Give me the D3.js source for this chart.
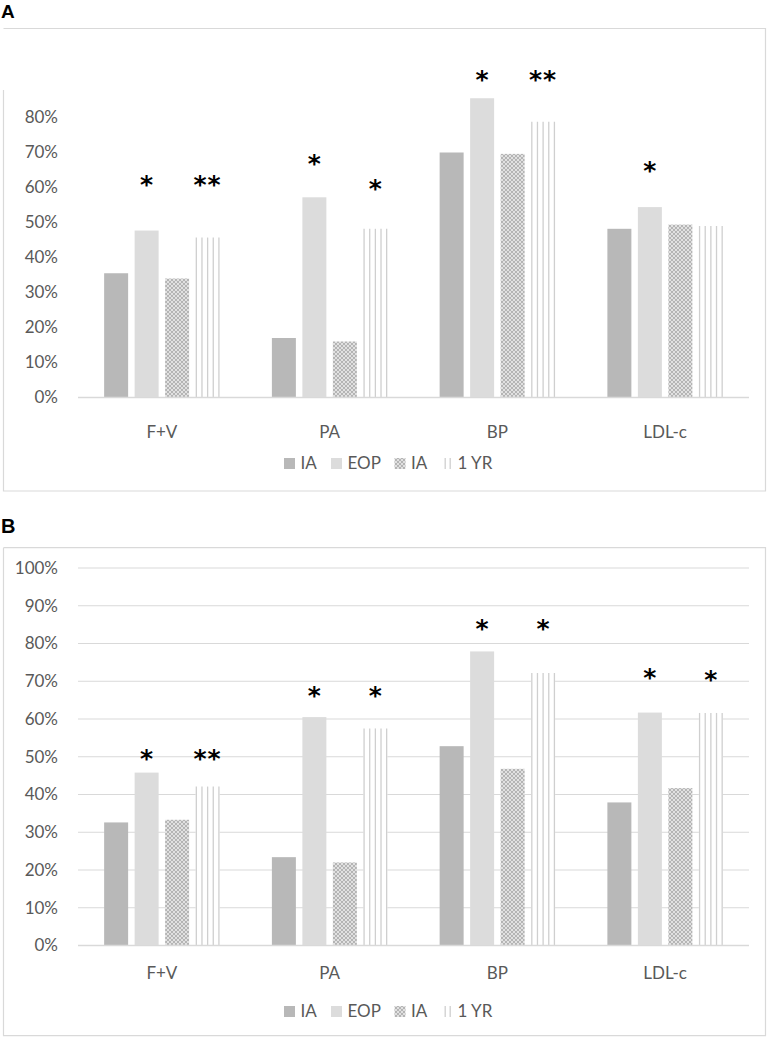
<!DOCTYPE html>
<html><head><meta charset="utf-8">
<script src="https://cdn.jsdelivr.net/npm/d3@7/dist/d3.min.js"></script>
<style>body{margin:0;background:#fff}svg{display:block}</style>
</head><body><svg id="c" width="767" height="1040"></svg>
<script>
// ---- data ----
const categories = ["F+V", "PA", "BP", "LDL-c"];
const seriesKeys = ["IA1", "EOP", "IA2", "YR1"];
const seriesLabels = ["IA", "EOP", "IA", "1 YR"];

// Panel A (percent)
const aIA1 = [35.5, 17.0, 70.0, 48.2];
const aEOP = [47.7, 57.2, 85.5, 54.4];
const aIA2 = [34.0, 16.0, 69.6, 49.4];
const aYR1 = [45.7, 48.2, 78.8, 49.0];
const aTicks = [0, 10, 20, 30, 40, 50, 60, 70, 80];
const aStars = [
  {cat: "F+V", s: "EOP", t: "*", v: 62}, {cat: "F+V", s: "YR1", t: "**", v: 62},
  {cat: "PA", s: "EOP", t: "*", v: 67.9}, {cat: "PA", s: "YR1", t: "*", v: 60.9},
  {cat: "BP", s: "EOP", t: "*", v: 92}, {cat: "BP", s: "YR1", t: "**", v: 92},
  {cat: "LDL-c", s: "EOP", t: "*", v: 66}
];

// Panel B (percent)
const bIA1 = [32.6, 23.4, 52.8, 37.9];
const bEOP = [45.8, 60.5, 77.9, 61.7];
const bIA2 = [33.3, 22.0, 46.8, 41.7];
const bYR1 = [42.1, 57.5, 72.2, 61.6];
const bTicks = [0, 10, 20, 30, 40, 50, 60, 70, 80, 90, 100];
const bStars = [
  {cat: "F+V", s: "EOP", t: "*", v: 50.6}, {cat: "F+V", s: "YR1", t: "**", v: 50.6},
  {cat: "PA", s: "EOP", t: "*", v: 67.4}, {cat: "PA", s: "YR1", t: "*", v: 67.4},
  {cat: "BP", s: "EOP", t: "*", v: 85}, {cat: "BP", s: "YR1", t: "*", v: 85},
  {cat: "LDL-c", s: "EOP", t: "*", v: 72}, {cat: "LDL-c", s: "YR1", t: "*", v: 71.5}
];

// ---- drawing ----
const svg = d3.select("#c");
const FONT = "Lato, 'Open Sans', 'Liberation Sans', sans-serif";
const TXT = "#595959";
const colIA1 = "#b8b8b8", colEOP = "#dcdcdc", colLine = "#cfcfcf", colGrid = "#d9d9d9";

const defs = svg.append("defs");
const pat = defs.append("pattern").attr("id", "dots").attr("patternUnits", "userSpaceOnUse")
  .attr("width", 4).attr("height", 4);
pat.append("rect").attr("width", 4).attr("height", 4).attr("fill", "#e2e2e2");
[[0,0],[4,0],[0,4],[4,4],[2,2]].forEach(([x,y]) =>
  pat.append("circle").attr("cx", x).attr("cy", y).attr("r", 1.05).attr("fill", "#a9a9a9"));

const x0 = d3.scaleBand().domain(categories).range([78, 749]).paddingInner(0).paddingOuter(0);
const x1 = d3.scaleBand().domain(seriesKeys).range([0, x0.bandwidth()]).paddingInner(0.213).paddingOuter(0.857);

function drawPanel(p) {
  const g = svg.append("g");
  // frame
  const L = 3.5, R = 765.5, T = p.frameTop, B = p.frameTop + p.frameH;
  g.append("path")
    .attr("d", `M${L},${p.leftStart}L${L},${B}L${R},${B}L${R},${T}L${L},${T}`)
    .attr("fill", "none").attr("stroke", colGrid).attr("stroke-width", 1.2);
  // panel letter
  svg.append("text").attr("x", 1).attr("y", p.letterY).text(p.letter)
    .attr("font-family", "'Liberation Sans', Arial, sans-serif").attr("font-weight", "bold")
    .attr("font-size", p.letterSize).attr("fill", "#000");

  const y = d3.scaleLinear().domain([0, p.yMax]).range([p.base, p.top]);
  const vals = {IA1: p.IA1, EOP: p.EOP, IA2: p.IA2, YR1: p.YR1};

  // gridlines
  if (p.grid) {
    g.selectAll(".grid").data(p.ticks.filter(t => t > 0)).join("line")
      .attr("x1", x0.range()[0]).attr("x2", x0.range()[1])
      .attr("y1", d => y(d)).attr("y2", d => y(d))
      .attr("stroke", colGrid).attr("stroke-width", 1.2);
  }
  // tick labels
  g.selectAll(".tl").data(p.ticks).join("text")
    .attr("x", 58).attr("y", d => y(d)).attr("dy", "0.35em").attr("text-anchor", "end")
    .attr("font-family", FONT).attr("font-size", 17).attr("fill", TXT)
    .text(d => d + "%");

  // bars
  categories.forEach((c, ci) => {
    seriesKeys.forEach(s => {
      const v = vals[s][ci];
      const bx = x0(c) + x1(s), bw = x1.bandwidth();
      const by = y(v), bh = p.base - by;
      if (s === "YR1") {
        g.append("rect").attr("x", bx).attr("y", by).attr("width", bw).attr("height", bh).attr("fill", "#fff");
        for (let i = 0; i <= 4; i++) {
          const lx = bx + 0.7 + i * (bw - 1.4) / 4;
          g.append("line").attr("x1", lx).attr("x2", lx).attr("y1", by).attr("y2", p.base)
            .attr("stroke", colLine).attr("stroke-width", 1.3);
        }
      } else {
        g.append("rect").attr("x", bx).attr("y", by).attr("width", bw).attr("height", bh)
          .attr("fill", s === "IA1" ? colIA1 : s === "EOP" ? colEOP : "url(#dots)");
      }
    });
  });
  // baseline
  g.append("line").attr("x1", x0.range()[0]).attr("x2", x0.range()[1])
    .attr("y1", p.base).attr("y2", p.base).attr("stroke", colGrid).attr("stroke-width", 1.5);

  // category labels
  g.selectAll(".cl").data(categories).join("text")
    .attr("x", d => x0(d) + x0.bandwidth() / 2).attr("y", p.catY).attr("dy", "0.35em")
    .attr("text-anchor", "middle").attr("font-family", FONT).attr("font-size", 17).attr("fill", TXT)
    .text(d => d);

  // stars
  const fs = 25;
  g.selectAll(".st").data(p.stars).join("text")
    .attr("x", d => x0(d.cat) + x1(d.s) + x1.bandwidth() / 2)
    .attr("y", d => y(d.v) + 0.5 * fs)
    .attr("text-anchor", "middle").attr("font-family", "'DejaVu Sans', sans-serif")
    .attr("font-weight", "bold")
    .attr("font-size", fs).attr("letter-spacing", d => d.t.length > 1 ? 1 : 0).attr("fill", "#000")
    .text(d => d.t);

  // legend
  const lg = g.append("g");
  const items = [
    {k: "IA1", x: 284, tx: 300.5}, {k: "EOP", x: 331, tx: 347.5},
    {k: "IA2", x: 394.5, tx: 411}, {k: "YR1", x: 444.5, tx: 457.5}
  ];
  items.forEach((it, i) => {
    const cy = p.legY;
    if (it.k === "YR1") {
      [0, 5].forEach(dx => lg.append("line").attr("x1", it.x + dx + 0.7).attr("x2", it.x + dx + 0.7)
        .attr("y1", cy - 5.5).attr("y2", cy + 5.5).attr("stroke", colLine).attr("stroke-width", 1.3));
    } else {
      lg.append("rect").attr("x", it.x).attr("y", cy - 5.5).attr("width", 11).attr("height", 11)
        .attr("fill", it.k === "IA1" ? colIA1 : it.k === "EOP" ? colEOP : "url(#dots)");
    }
    lg.append("text").attr("x", it.tx).attr("y", cy).attr("dy", "0.35em")
      .attr("font-family", FONT).attr("font-size", 17).attr("fill", TXT)
      .text(seriesLabels[i]);
  });
}

drawPanel({
  letter: "A", letterY: 18, letterSize: 19, frameTop: 28.5, frameH: 462.5, leftStart: 90,
  yMax: 80, base: 397.5, top: 117.5, grid: false, ticks: aTicks,
  IA1: aIA1, EOP: aEOP, IA2: aIA2, YR1: aYR1, stars: aStars, catY: 432, legY: 463.5
});
drawPanel({
  letter: "B", letterY: 533, letterSize: 20, frameTop: 547.7, frameH: 488, leftStart: 547.7,
  yMax: 100, base: 945.5, top: 568, grid: true, ticks: bTicks,
  IA1: bIA1, EOP: bEOP, IA2: bIA2, YR1: bYR1, stars: bStars, catY: 973, legY: 1011.5
});
</script></body></html>
